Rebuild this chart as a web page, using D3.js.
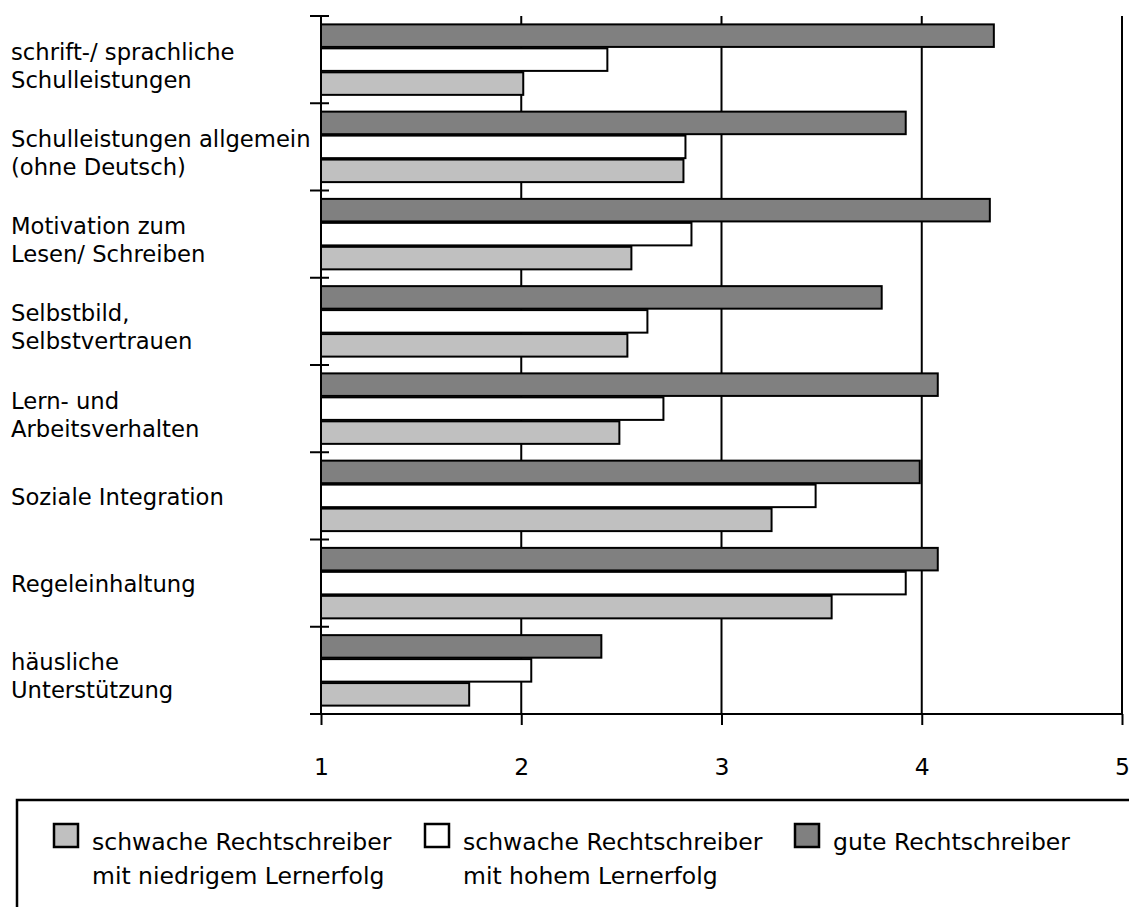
<!DOCTYPE html>
<html>
<head>
<meta charset="utf-8">
<script src="https://cdn.jsdelivr.net/npm/d3@7"></script>
<style>
  html, body { margin: 0; padding: 0; background: #fff; }
  svg { display: block; font-family: Verdana, "DejaVu Sans", sans-serif; }
</style>
</head>
<body>
<svg id="chart" width="1129" height="907"></svg>
<script>
// Categories (top to bottom), line breaks as drawn
const categories = [
  "schrift-/ sprachliche\nSchulleistungen",
  "Schulleistungen allgemein\n(ohne Deutsch)",
  "Motivation zum\nLesen/ Schreiben",
  "Selbstbild,\nSelbstvertrauen",
  "Lern- und\nArbeitsverhalten",
  "Soziale Integration",
  "Regeleinhaltung",
  "häusliche\nUnterstützung"
];

// Mean ratings per group
const niedrigValues = [2.01, 2.81, 2.55, 2.53, 2.49, 3.25, 3.55, 1.74];
const hochValues    = [2.43, 2.82, 2.85, 2.63, 2.71, 3.47, 3.92, 2.05];
const guteValues    = [4.36, 3.92, 4.34, 3.80, 4.08, 3.99, 4.08, 2.40];

const seriesKeys   = ["niedrig", "hoch", "gute"];
const seriesLabels = [
  "schwache Rechtschreiber\nmit niedrigem Lernerfolg",
  "schwache Rechtschreiber\nmit hohem Lernerfolg",
  "gute Rechtschreiber"
];
const seriesColors = ["#c0c0c0", "#ffffff", "#808080"];
const tickValues = [1, 2, 3, 4, 5];

const seriesData = { niedrig: niedrigValues, hoch: hochValues, gute: guteValues };
const barOrder = ["gute", "hoch", "niedrig"]; // top to bottom within each category
const colorOf = d3.scaleOrdinal(seriesKeys, seriesColors);

const svg = d3.select("#chart");
const labelSize = 22.7;
const legendSize = 23.5;

const x = d3.scaleLinear().domain([1, 5]).range([321, 1122]);
const y = d3.scaleBand().domain(categories).range([16, 714]).padding(0);
const yInner = d3.scaleBand().domain(barOrder).range([0, y.bandwidth()])
  .paddingInner(0.06).paddingOuter(0.35);

// vertical gridlines
svg.append("g").selectAll("line")
  .data(tickValues.slice(1))
  .join("line")
  .attr("x1", d => x(d)).attr("x2", d => x(d))
  .attr("y1", y.range()[0]).attr("y2", y.range()[1])
  .attr("stroke", "#000").attr("stroke-width", 2);

// bars
const rows = categories.map((c, i) => ({ c, i }));
const groups = svg.append("g").selectAll("g")
  .data(rows)
  .join("g")
  .attr("transform", d => `translate(0,${y(d.c)})`);

groups.selectAll("rect")
  .data(d => barOrder.map(k => ({ key: k, value: seriesData[k][d.i] })))
  .join("rect")
  .attr("x", x(1))
  .attr("y", d => yInner(d.key))
  .attr("width", d => x(d.value) - x(1))
  .attr("height", yInner.bandwidth())
  .attr("fill", d => colorOf(d.key))
  .attr("stroke", "#000")
  .attr("stroke-width", 2);

// category axis (left)
const yAxis = svg.append("g");
yAxis.append("line")
  .attr("x1", x(1)).attr("x2", x(1))
  .attr("y1", y.range()[0]).attr("y2", y.range()[1])
  .attr("stroke", "#000").attr("stroke-width", 2);
const boundaries = categories.map(c => y(c)).concat([y.range()[1]]);
yAxis.selectAll("line.tick")
  .data(boundaries)
  .join("line")
  .attr("class", "tick")
  .attr("x1", x(1) - 11).attr("x2", x(1) + 8)
  .attr("y1", d => d).attr("y2", d => d)
  .attr("stroke", "#000").attr("stroke-width", 2);

// category labels
const labels = svg.append("g").attr("font-size", labelSize).attr("fill", "#000");
rows.forEach(r => {
  const lines = r.c.split("\n");
  const mid = y(r.c) + y.bandwidth() / 2;
  const lh = 28;
  const first = lines.length === 1 ? mid + 9 : mid;
  const t = labels.append("text").attr("x", 11);
  lines.forEach((ln, j) => {
    t.append("tspan").attr("x", 11).attr("y", first + j * lh).text(ln);
  });
});

// value axis (bottom)
const xAxis = d3.axisBottom(x).tickValues(tickValues).tickSize(11).tickPadding(0)
  .tickFormat(d3.format("d"));
const xg = svg.append("g").attr("transform", `translate(0,${y.range()[1]})`).call(xAxis);
xg.select(".domain").remove();
xg.selectAll(".tick line").attr("stroke", "#000").attr("stroke-width", 2);
xg.selectAll(".tick text")
  .attr("font-size", legendSize)
  .attr("font-family", "Verdana, 'DejaVu Sans', sans-serif")
  .attr("fill", "#000")
  .attr("dy", null)
  .attr("y", 61);
svg.append("line")
  .attr("x1", x(1) - 11).attr("x2", x(5))
  .attr("y1", y.range()[1]).attr("y2", y.range()[1])
  .attr("stroke", "#000").attr("stroke-width", 2);

// legend
const legend = svg.append("g");
legend.append("rect")
  .attr("x", 17).attr("y", 800)
  .attr("width", 1200).attr("height", 200)
  .attr("fill", "none").attr("stroke", "#000").attr("stroke-width", 2.5);

const legendTextX = [92, 463, 833];
seriesKeys.forEach((k, i) => {
  const tx = legendTextX[i];
  legend.append("rect")
    .attr("x", tx - 38).attr("y", 824)
    .attr("width", 24).attr("height", 23)
    .attr("fill", colorOf(k))
    .attr("stroke", "#000").attr("stroke-width", 2.5);
  const t = legend.append("text").attr("font-size", legendSize).attr("fill", "#000");
  seriesLabels[i].split("\n").forEach((ln, j) => {
    t.append("tspan").attr("x", tx).attr("y", 850 + j * 34).text(ln);
  });
});
</script>
</body>
</html>
